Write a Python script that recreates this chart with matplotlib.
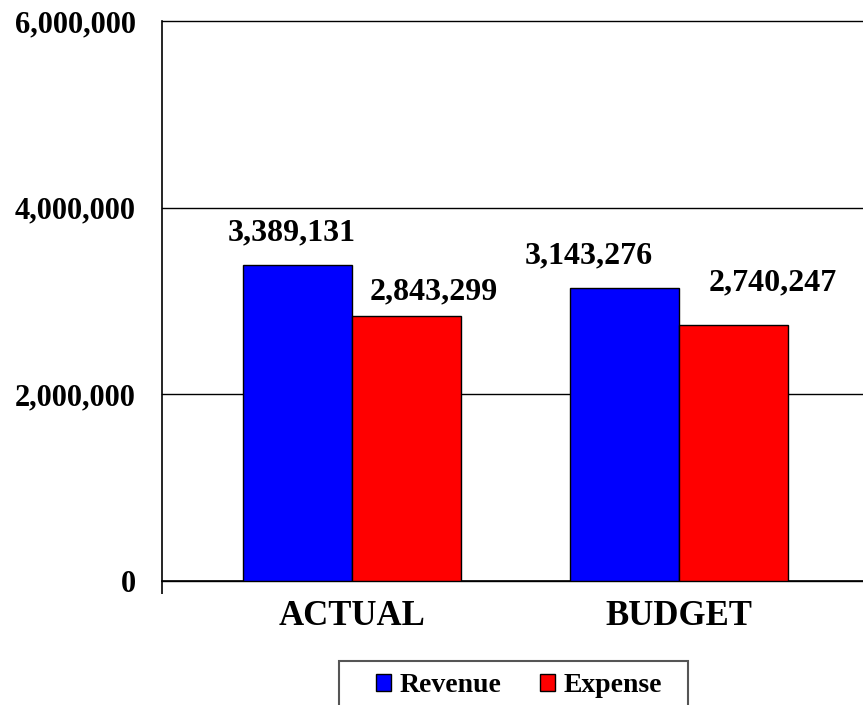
import numpy as np
import matplotlib.pyplot as plt
from matplotlib.patches import Rectangle
from matplotlib.ticker import FuncFormatter

plt.rcParams['font.family'] = ['Liberation Serif', 'DejaVu Serif']
plt.rcParams['font.weight'] = 'bold'

categories = ['ACTUAL', 'BUDGET']
series_names = ['Revenue', 'Expense']
revenue = [3389131, 3143276]
expense = [2843299, 2740247]
yticks = [0, 2000000, 4000000, 6000000]

colors = ['#0000ff', '#ff0000']
# label nudges in pixels (dx, dy) from the top centre of each bar
label_shift = {
    'Revenue': [(-6, 32), (-36, 32)],
    'Expense': [(27, 24), (39, 42)],
}

W, H = 863, 705
fig = plt.figure(figsize=(W / 100, H / 100), dpi=100)
ax = fig.add_axes([162 / W, 124 / H, 1 - 162 / W, 560 / H])

x = np.arange(len(categories))
w = 0.333
for i, (name, vals) in enumerate(zip(series_names, [revenue, expense])):
    off = (i - 0.5) * w
    b = ax.bar(x + off, vals, w, color=colors[i], edgecolor='black',
               linewidth=1.0, label=name, zorder=3)
    for j, rect in enumerate(b):
        dx, dy = label_shift[name][j]
        ax.annotate(f'{vals[j]:,}', (rect.get_x() + rect.get_width() / 2, vals[j]),
                    xytext=(dx, dy), textcoords='offset pixels',
                    ha='center', va='center', fontsize=23, fontweight='bold')

ax.set_xlim(-0.581, 1.563)
ax.set_ylim(0, 6000000)
ax.set_yticks(yticks)
ax.yaxis.set_major_formatter(FuncFormatter(lambda v, p: f'{int(v):,}'))
ax.tick_params(axis='y', length=0, pad=19, labelsize=22)
ax.set_xticks(x)
ax.set_xticklabels(categories, fontsize=25, fontweight='bold')
ax.tick_params(axis='x', length=0, pad=14)
ax.set_xticks([-0.581], minor=True)
ax.tick_params(axis='x', which='minor', length=9, width=1.2, color='black')

ax.yaxis.grid(True, color='black', linewidth=1.0)
for gl in ax.get_ygridlines():
    gl.set_clip_on(False)
ax.set_axisbelow(True)

for s in ['top', 'right']:
    ax.spines[s].set_visible(False)
for s in ['left', 'bottom']:
    ax.spines[s].set_color('black')
    ax.spines[s].set_linewidth(1.2)

# legend entries without frame, box drawn separately so it runs off the bottom
leg = fig.legend(loc='upper center', bbox_to_anchor=(519 / W, 1 - 661 / H),
                 ncol=2, fontsize=20, frameon=False,
                 handlelength=0.55, handleheight=0.55, handletextpad=0.3,
                 columnspacing=1.4, borderpad=0.45, borderaxespad=0)
fig.patches.append(Rectangle((339 / W, -0.02), 349 / W, (705 - 661) / H + 0.02,
                             transform=fig.transFigure, facecolor='none',
                             edgecolor='#555555', linewidth=1.5))

fig.savefig('out.png', dpi=100)
